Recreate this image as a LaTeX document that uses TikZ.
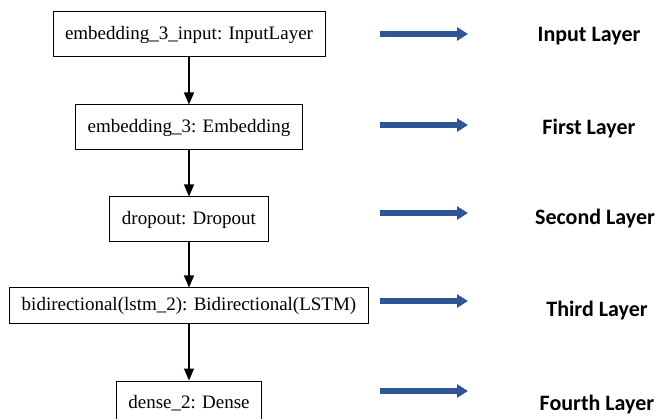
\documentclass[tikz,border=0pt]{standalone}
\usepackage{fontspec}
\setmainfont{Liberation Serif}
\newfontfamily\layerfont{Carlito}
\usepackage{tikz}
\usetikzlibrary{positioning, arrows.meta}

\definecolor{arrowblue}{RGB}{47,85,151}

\begin{document}
\begin{tikzpicture}[
    x=1pt, y=1pt,
    node distance=47pt,
    layer/.style={rectangle, draw, line width=1pt, minimum height=45pt, inner xsep=12pt, text centered, font=\fontsize{19}{22}\selectfont},
    link/.style={line width=1.2pt, -{Triangle[length=12pt,width=10pt]}},
    pointer/.style={line width=6pt, arrowblue, -{Triangle[length=11pt,width=13pt]}},
    caption/.style={anchor=base, font=\layerfont\bfseries\fontsize{22}{26}\selectfont}
]
\useasboundingbox (0,0) rectangle (661,-419);
% Model layers
\node (input) [layer] at (189,-34.5) {embedding\_3\_input: InputLayer};
\node (embed) [layer, below=of input] {embedding\_3: Embedding};
\node (drop) [layer, below=46pt of embed] {dropout: Dropout};
\node (bilstm) [layer, below=45pt of drop, minimum height=36pt] {bidirectional(lstm\_2): Bidirectional(LSTM)};
\node (dense) [layer, below=56pt of bilstm] {dense\_2: Dense};
% Links
\draw [link] (input) -- (embed);
\draw [link] (embed) -- (drop);
\draw [link] (drop) -- (bilstm);
\draw [link] (bilstm) -- (dense);
% Layer names
\node (cap1) [caption] at (589,-42) {Input Layer};
\node (cap2) [caption] at (589,-135) {First Layer};
\node (cap3) [caption] at (595,-225) {Second Layer};
\node (cap4) [caption] at (597,-317) {Third Layer};
\node (cap5) [caption] at (597,-410) {Fourth Layer};
% Pointers
\coordinate (p1s) at (380,-34);
\coordinate (p1e) at (468,-34);
\coordinate (p2s) at (380,-125);
\coordinate (p2e) at (468,-125);
\coordinate (p3s) at (380,-213);
\coordinate (p3e) at (468,-213);
\coordinate (p4s) at (380,-301);
\coordinate (p4e) at (468,-301);
\coordinate (p5s) at (380,-391);
\coordinate (p5e) at (468,-391);
\draw [pointer] (p1s) -- (p1e);
\draw [pointer] (p2s) -- (p2e);
\draw [pointer] (p3s) -- (p3e);
\draw [pointer] (p4s) -- (p4e);
\draw [pointer] (p5s) -- (p5e);
\end{tikzpicture}
\end{document}
